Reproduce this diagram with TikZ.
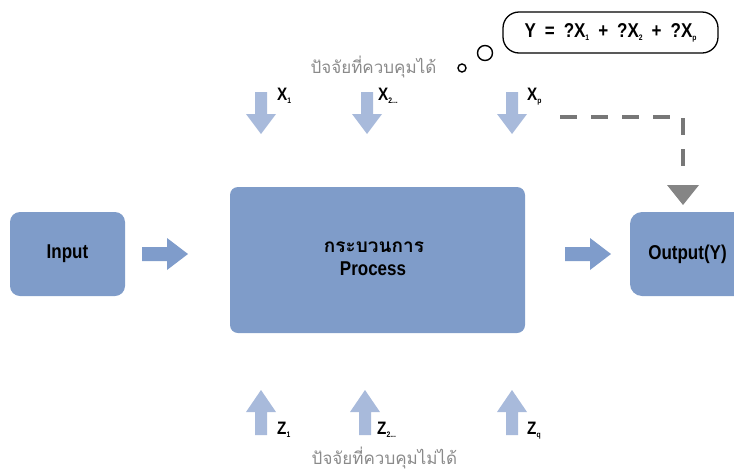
\documentclass[tikz,border=0pt]{standalone}
\usepackage{fontspec}
\setmainfont{Liberation Sans}
\newfontfamily\cf[FakeStretch=0.85]{Liberation Sans}
\newfontfamily\thai[Script=Thai]{Loma}
\definecolor{boxblue}{HTML}{7F9CC9}
\definecolor{arrh}{HTML}{7F9CCB}
\definecolor{arrv}{HTML}{A8BADB}
\definecolor{thgrey}{HTML}{8A8A8A}
\definecolor{dgrey}{HTML}{777777}
\newcommand\lowidx[1]{\raisebox{-0.3ex}{\fontsize{8}{8}\selectfont #1}}
\newcommand\gap{\hspace{9pt}}
\newcommand\harrow[2]{\fill[arrh] (#1,{#2-7}) -- ++(25,0) -- ++(0,-9) -- ++(21,16) -- ++(-21,16) -- ++(0,-9) -- ++(-25,0) -- cycle;}
\newcommand\darrow[2]{\fill[arrv] ({#1-6},#2) -- ++(12,0) -- ++(0,22) -- ++(9,0) -- ++(-15,20) -- ++(-15,-20) -- ++(9,0) -- cycle;}
\newcommand\uarrow[2]{\fill[arrv] (#1,#2) -- ++(15,22) -- ++(-9,0) -- ++(0,23) -- ++(-12,0) -- ++(0,-23) -- ++(-9,0) -- cycle;}
\begin{document}
\begin{tikzpicture}[x=1pt,y=-1pt,
  blk/.style={fill=boxblue, rounded corners=10pt, inner sep=0pt},
  lbl/.style={font=\cf\bfseries\fontsize{20}{24}\selectfont, inner sep=0pt},
  xl/.style={font=\cf\bfseries\fontsize{18}{20}\selectfont, inner sep=0pt, anchor=north west},
  thl/.style={font=\thai\fontsize{17}{20}\selectfont, text=thgrey, inner sep=0pt, anchor=base}]
\clip (0,0) rectangle (734,472);
% boxes
\node[blk, minimum width=115pt, minimum height=84pt] (input) at (67.5,254) {};
\node[lbl] (inputtxt) at (input.center) {Input};
\node[blk, rounded corners=8pt, minimum width=295pt, minimum height=146pt] (proc) at (377.5,260) {};
\node[font=\thai\bfseries\fontsize{19}{20}\selectfont, inner sep=0pt, anchor=base] (procth) at (374,252) {กระบวนการ};
\node[lbl, anchor=base] (proctxt) at (373,275) {Process};
\node[blk, rounded corners=12pt, minimum width=140pt, minimum height=84pt] (output) at (700,254) {};
\node[lbl] (outtxt) at (687.5,254) {Output(Y)};
% horizontal arrows
\harrow{142}{254}
\harrow{565}{254}
% top arrows
\darrow{261}{92}
\darrow{367}{92}
\darrow{512}{92}
\node[xl] (x1) at (277,88) {X\lowidx{1}};
\node[xl] (x2) at (378,88) {X\lowidx{2...}};
\node[xl] (xp) at (527,88) {X\lowidx{p}};
% bottom arrows
\uarrow{261}{390}
\uarrow{365}{390}
\uarrow{512}{390}
\node[xl] (z1) at (277,422) {Z\lowidx{1}};
\node[xl] (z2) at (377,422) {Z\lowidx{2...}};
\node[xl] (zq) at (527,422) {Z\lowidx{q}};
% thai captions
\node[thl] (topth) at (373.5,73) {ปัจจัยที่ควบคุมได้};
\node[thl] (botth) at (384.5,464) {ปัจจัยที่ควบคุมไม่ได้};
% thought bubble
\node[draw, circle, line width=1.4pt, minimum size=8pt, inner sep=0pt] (b1) at (462,68) {};
\node[draw, circle, line width=1.4pt, minimum size=15pt, inner sep=0pt] (b2) at (485,53) {};
\node[draw, line width=1.3pt, rounded corners=16pt, minimum width=215pt, minimum height=41pt, inner sep=0pt,
  font=\cf\bfseries\fontsize{20}{22}\selectfont] (eq) at (610.5,32.5) {Y\gap=\gap?X\lowidx{1}\gap+\gap?X\lowidx{2}\gap+\gap?X\lowidx{p}};
% dashed feedback
\coordinate (ds) at (560,117);
\coordinate (dc) at (683,117);
\coordinate (de) at (683,174);
\draw[dgrey, line width=4pt, dash pattern=on 17pt off 14pt] (ds) -- (dc) -- (de);
\fill[dgrey!90] (667,185) -- (699,185) -- (683,205) -- cycle;
\end{tikzpicture}
\end{document}
